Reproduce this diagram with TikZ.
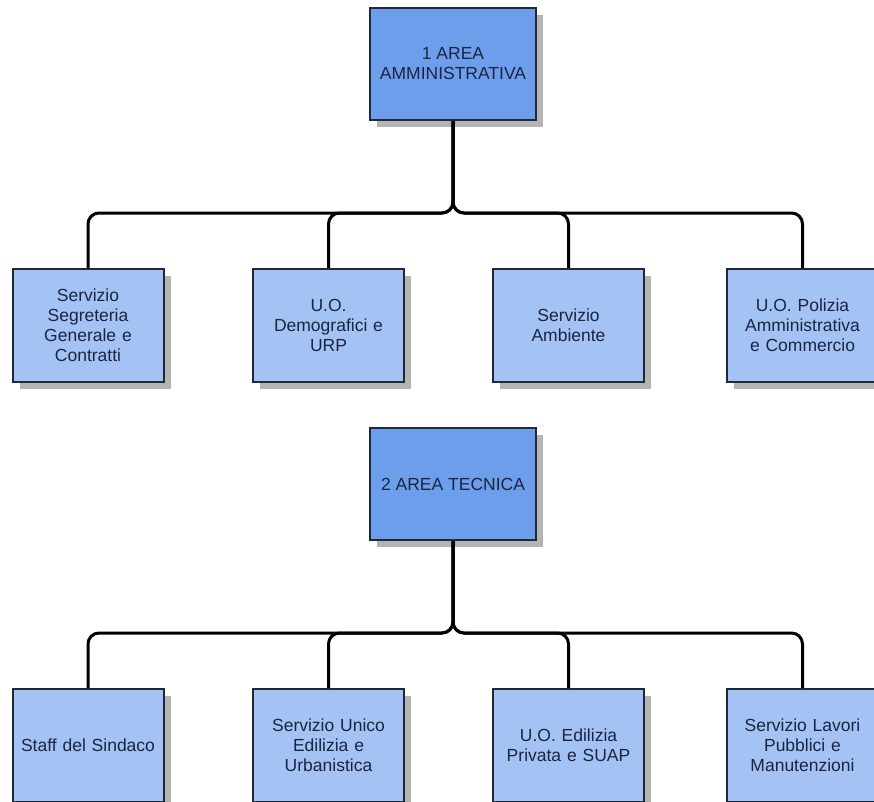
\documentclass[tikz,border=0pt]{standalone}
\usepackage{fontspec}
\setmainfont{Liberation Sans}
\usetikzlibrary{shadows}
\definecolor{areafill}{HTML}{6D9EEB}
\definecolor{unitfill}{HTML}{A4C2F4}
\definecolor{boxline}{HTML}{1E2A3C}
\definecolor{boxtext}{HTML}{1B2541}
\definecolor{shade}{HTML}{B4B4B4}
\tikzset{
  box/.style={rectangle, draw=boxline, line width=2pt, align=center,
    text=boxtext, font=\fontsize{17.5}{20}\selectfont, inner sep=2pt,
    drop shadow={shadow xshift=7pt, shadow yshift=-7pt, fill=shade, opacity=1}},
  area/.style={box, fill=areafill, minimum width=166pt, minimum height=112pt},
  unit/.style={box, fill=unitfill, minimum width=151pt, minimum height=113pt, text width=140pt},
  link/.style={draw=black, line width=3pt, rounded corners=11pt}
}
\begin{document}
\begin{tikzpicture}[x=1pt,y=-1pt]
  \useasboundingbox (0,0) rectangle (874,801);
  \clip (0,0) rectangle (874,801);
  \fill[white] (0,0) rectangle (874,801);

  % first area and its services
  \coordinate (bar1) at (0,213);
  \node[area] (a1) at (453,64) {1 AREA\\AMMINISTRATIVA};
  \node[unit] (u11) at (88,325.5) {Servizio\\Segreteria\\Generale e\\Contratti};
  \node[unit] (u12) at (328.5,325.5) {U.O.\\Demografici e\\URP};
  \node[unit] (u13) at (568.5,325.5) {Servizio\\Ambiente};
  \node[unit] (u14) at (802.5,325.5) {U.O. Polizia\\Amministrativa\\e Commercio};

  % second area and its services
  \coordinate (bar2) at (0,633);
  \node[area] (a2) at (453,484) {2 AREA TECNICA};
  \node[unit] (u21) at (88,745.5) {Staff del Sindaco};
  \node[unit] (u22) at (328.5,745.5) {Servizio Unico\\Edilizia e\\Urbanistica};
  \node[unit] (u23) at (568.5,745.5) {U.O. Edilizia\\Privata e SUAP};
  \node[unit] (u24) at (802.5,745.5) {Servizio Lavori\\Pubblici e\\Manutenzioni};

  % connectors
  \foreach \c in {u11,u12,u13,u14}
    \draw[link] (a1.south) -- (a1.south |- bar1) -- (\c.north |- bar1) -- (\c.north);
  \foreach \c in {u21,u22,u23,u24}
    \draw[link] (a2.south) -- (a2.south |- bar2) -- (\c.north |- bar2) -- (\c.north);
\end{tikzpicture}
\end{document}
